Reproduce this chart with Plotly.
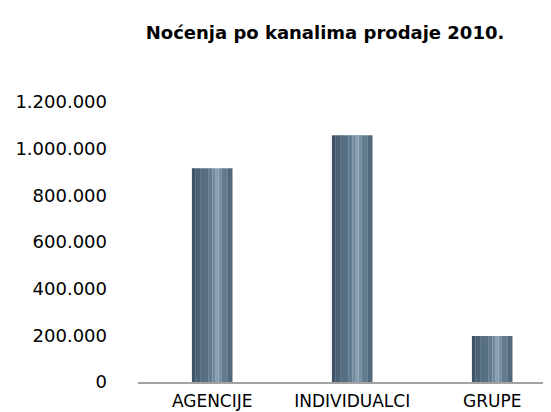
import plotly.graph_objects as go

categories = ["AGENCIJE", "INDIVIDUALCI", "GRUPE"]
values = [916000, 1058000, 197000]
y_tickvals = [0, 200000, 400000, 600000, 800000, 1000000, 1200000]
y_ticktext = ["0", "200.000", "400.000", "600.000", "800.000", "1.000.000", "1.200.000"]
title_text = "Noćenja po kanalima prodaje 2010."

# cylinder shading strips: (left fraction, right fraction, colour)
strips = [
    (0.00, 0.08, "#3f5466"),
    (0.08, 0.22, "#4a6173"),
    (0.22, 0.40, "#566f82"),
    (0.40, 0.50, "#627b8e"),
    (0.50, 0.57, "#738b9d"),
    (0.57, 0.66, "#869eaf"),
    (0.66, 0.74, "#7690a2"),
    (0.74, 0.87, "#627c8f"),
    (0.87, 1.00, "#52697c"),
]
W = 0.29

# page body has an 8px margin; compensate so the figure fills the 551x412 window
OFF = 8
FW, FH = 551 - OFF, 412 - OFF

fig = go.Figure()
for a, b, c in strips:
    fig.add_trace(go.Bar(
        x=categories, y=values,
        width=W * (b - a), offset=-W / 2 + W * a,
        marker=dict(color=c, line=dict(width=0)),
        hoverinfo="skip", showlegend=False,
    ))

fig.update_layout(
    width=FW, height=FH,
    margin=dict(l=138 - OFF, r=0, t=102 - OFF, b=412 - 382),
    barmode="overlay",
    plot_bgcolor="white", paper_bgcolor="white",
    font=dict(family="DejaVu Sans, Liberation Sans, sans-serif", color="#000000"),
    title=dict(text="<b>" + title_text + "</b>", font=dict(size=18, color="#000000"),
               x=(325 - OFF) / FW, xanchor="center", xref="container",
               y=1 - (33 - OFF) / FH, yanchor="middle", yref="container"),
    xaxis=dict(range=[-0.53, 2.42], showline=True, linecolor="#a3a3a3", linewidth=2,
               ticks="", tickfont=dict(size=17), showgrid=False, zeroline=False,
               ticklabelstandoff=3),
    yaxis=dict(range=[0, 1200000], tickvals=y_tickvals, ticktext=y_ticktext,
               tickfont=dict(size=18), showgrid=False, zeroline=False, showline=False,
               ticks="", ticklabelstandoff=30),
)

fig.write_html("out.html")
